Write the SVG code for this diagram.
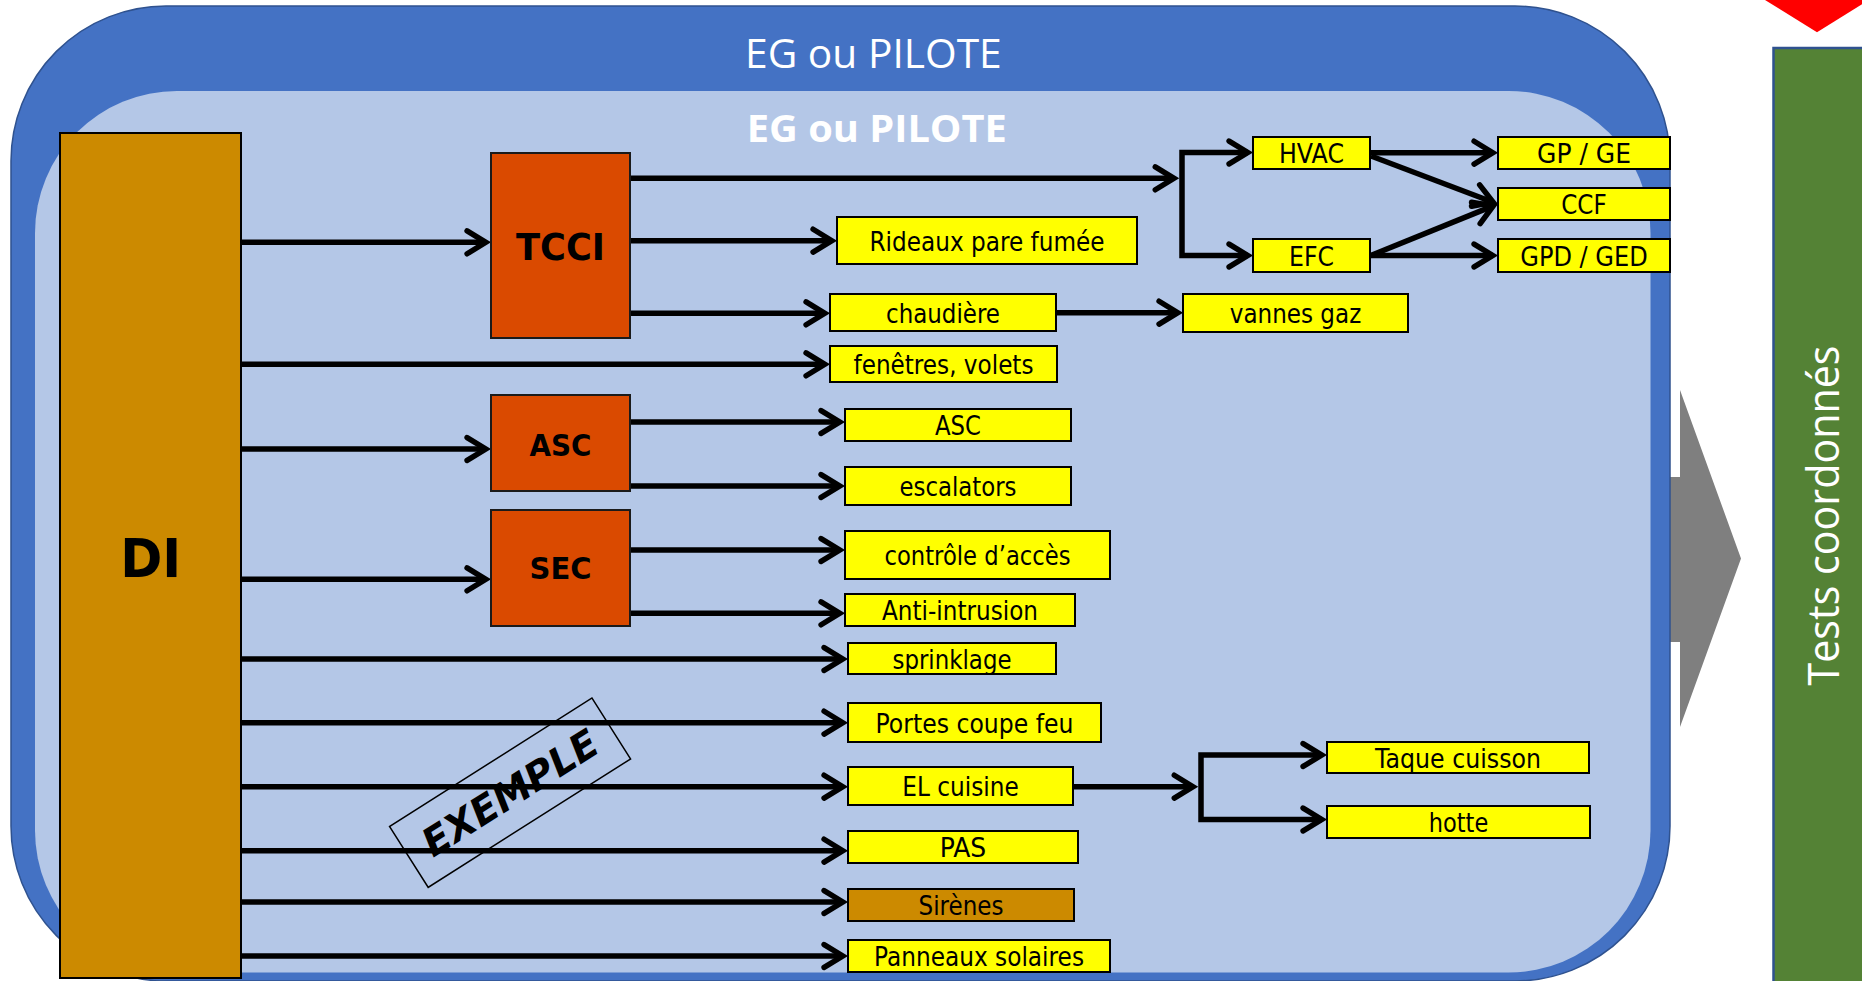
<svg xmlns="http://www.w3.org/2000/svg" width="1862" height="981" viewBox="0 0 1862 981">
<defs>
<style>
.lbl{font-family:"DejaVu Sans","Liberation Sans",sans-serif;font-size:26px;fill:#000;text-anchor:middle}
.big{font-family:"DejaVu Sans","Liberation Sans",sans-serif;font-weight:bold;fill:#000;text-anchor:middle}
.yb{fill:#FFFF00;stroke:#000;stroke-width:2}
.ob{fill:#DA4A00;stroke:#1a1a1a;stroke-width:2}
.con{fill:none;stroke:#000;stroke-width:5.5;stroke-linejoin:miter;marker-end:url(#arr)}
.plain{fill:none;stroke:#000;stroke-width:5.5}
</style>
<marker id="arr" markerUnits="userSpaceOnUse" markerWidth="60" markerHeight="60" refX="0" refY="0" orient="auto" style="overflow:visible">
<path d="M-18.7,-11.45 L0,0 L-18.7,11.45" fill="none" stroke="#000" stroke-width="5.5" stroke-linecap="round" stroke-linejoin="miter"/>
</marker>
</defs>
<rect width="1862" height="981" fill="#FFFFFF"/>

<g id="gray-arrow">
<polygon points="1600,477 1680,477 1680,390 1741,558.5 1680,727 1680,642 1600,642" fill="#7F7F7F"/>
</g>

<g id="red-triangle">
<polygon points="1765,0 1869,0 1817,32.3" fill="#FF0000"/>
</g>

<g id="tests">
<rect x="1773.5" y="48" width="100" height="950" fill="#548235" stroke="#2F528F" stroke-width="2.5"/>
<text transform="translate(1839,515.5) rotate(-90)" text-anchor="middle" font-family="'Open Sans','DejaVu Sans',sans-serif" font-size="43" fill="#FFFFFF" textLength="340" lengthAdjust="spacingAndGlyphs">Tests coordonnés</text>
</g>

<g id="eg-outer">
<rect x="11" y="6" width="1659" height="975" rx="155" ry="155" fill="#4472C4" stroke="#2F528F" stroke-width="1.5"/>
<text x="873.4" y="68.3" text-anchor="middle" font-family="'Open Sans','DejaVu Sans',sans-serif" font-size="40.6" fill="#FFFFFF" textLength="256.7" lengthAdjust="spacingAndGlyphs">EG ou PILOTE</text>
</g>

<g id="eg-inner">
<rect x="35" y="91" width="1615.5" height="881.5" rx="142" ry="142" fill="#B4C7E7"/>
<text x="876.8" y="141.7" text-anchor="middle" font-family="'Open Sans','DejaVu Sans',sans-serif" font-weight="bold" font-size="38.4" fill="#FFFFFF" textLength="260" lengthAdjust="spacingAndGlyphs">EG ou PILOTE</text>
</g>

<g id="connectors">
<path class="con" d="M241,242.3 H485.8"/>
<path class="con" d="M630,178.3 H1174"/>
<path class="con" d="M1182,204 V152.5 H1247.8"/>
<path class="con" d="M1182,204 V255.5 H1247.8"/>
<path class="con" d="M630,240.7 H831.8"/>
<path class="con" d="M630,313.3 H824.8"/>
<path class="con" d="M241,364.3 H824.8"/>
<path class="con" d="M630,422 H839.8"/>
<path class="con" d="M630,486 H839.8"/>
<path class="con" d="M241,449 H485.8"/>
<path class="con" d="M241,579.3 H485.8"/>
<path class="con" d="M630,550 H839.8"/>
<path class="con" d="M630,613.3 H839.8"/>
<path class="con" d="M241,659 H842.8"/>
<path class="con" d="M241,722.7 H842.8"/>
<path class="con" d="M241,786.7 H842.8"/>
<path class="con" d="M241,850.7 H842.8"/>
<path class="con" d="M241,902 H842.8"/>
<path class="con" d="M241,956 H842.8"/>
<path class="con" d="M1056,312.7 H1177.8"/>
<path class="con" d="M1370,152.7 H1492.8"/>
<path class="con" d="M1371,156 L1493.1,202.2"/>
<path class="con" d="M1372,255 L1493.2,205.9"/>
<path class="con" d="M1370,255.5 H1492.8"/>
<path class="con" d="M1073,786.7 H1193"/>
<path class="con" d="M1201,787 V755 H1321.8"/>
<path class="con" d="M1201,787 V819.5 H1321.8"/>
</g>

<g id="DI">
<rect x="60" y="133" width="181" height="845" fill="#CC8A00" stroke="#000" stroke-width="2"/>
<text class="big" x="150.7" y="577.3" font-size="52.5" textLength="61" lengthAdjust="spacingAndGlyphs">DI</text>
</g>
<g id="TCCI">
<rect class="ob" x="491" y="153" width="139" height="185"/>
<text class="big" x="560.5" y="260" font-size="36.6" textLength="89" lengthAdjust="spacingAndGlyphs">TCCI</text>
</g>
<g id="ASC">
<rect class="ob" x="491" y="395" width="139" height="96"/>
<text class="big" x="560.5" y="456" font-size="31" textLength="62" lengthAdjust="spacingAndGlyphs">ASC</text>
</g>
<g id="SEC">
<rect class="ob" x="491" y="510" width="139" height="116"/>
<text class="big" x="560.5" y="579.3" font-size="31" textLength="62" lengthAdjust="spacingAndGlyphs">SEC</text>
</g>

<g id="rideaux"><rect class="yb" x="837" y="217" width="300" height="47"/><text class="lbl" x="987" y="250.5" textLength="235" lengthAdjust="spacingAndGlyphs">Rideaux pare fumée</text></g>
<g id="chaudiere"><rect class="yb" x="830" y="294" width="226" height="37"/><text class="lbl" x="943" y="322.5" textLength="114" lengthAdjust="spacingAndGlyphs">chaudière</text></g>
<g id="fenetres"><rect class="yb" x="830" y="346" width="227" height="36"/><text class="lbl" x="943.5" y="374" textLength="180" lengthAdjust="spacingAndGlyphs">fenêtres, volets</text></g>
<g id="asc-y"><rect class="yb" x="845" y="409" width="226" height="32"/><text class="lbl" x="958" y="435" textLength="46" lengthAdjust="spacingAndGlyphs">ASC</text></g>
<g id="escalators"><rect class="yb" x="845" y="467" width="226" height="38"/><text class="lbl" x="958" y="496" textLength="117" lengthAdjust="spacingAndGlyphs">escalators</text></g>
<g id="controle"><rect class="yb" x="845" y="531" width="265" height="48"/><text class="lbl" x="977.5" y="565" textLength="186" lengthAdjust="spacingAndGlyphs">contrôle d’accès</text></g>
<g id="anti"><rect class="yb" x="845" y="594" width="230" height="32"/><text class="lbl" x="960" y="620" textLength="156" lengthAdjust="spacingAndGlyphs">Anti-intrusion</text></g>
<g id="sprinklage"><rect class="yb" x="848" y="643" width="208" height="31"/><text class="lbl" x="952" y="668.5" textLength="119" lengthAdjust="spacingAndGlyphs">sprinklage</text></g>
<g id="portes"><rect class="yb" x="848" y="703" width="253" height="39"/><text class="lbl" x="974.5" y="732.5" textLength="198" lengthAdjust="spacingAndGlyphs">Portes coupe feu</text></g>
<g id="elcuisine"><rect class="yb" x="848" y="767" width="225" height="38"/><text class="lbl" x="960.5" y="796" textLength="116.5" lengthAdjust="spacingAndGlyphs">EL cuisine</text></g>
<g id="pas"><rect class="yb" x="848" y="831" width="230" height="32"/><text class="lbl" x="963" y="857" textLength="46.5" lengthAdjust="spacingAndGlyphs">PAS</text></g>
<g id="sirenes"><rect x="848" y="889" width="226" height="32" fill="#CC8A00" stroke="#000" stroke-width="2"/><text class="lbl" x="961" y="915" textLength="85" lengthAdjust="spacingAndGlyphs">Sirènes</text></g>
<g id="panneaux"><rect class="yb" x="848" y="940" width="262" height="32"/><text class="lbl" x="979" y="966" textLength="210" lengthAdjust="spacingAndGlyphs">Panneaux solaires</text></g>
<g id="hvac"><rect class="yb" x="1253" y="137" width="117" height="32"/><text class="lbl" x="1311.5" y="163" textLength="65" lengthAdjust="spacingAndGlyphs">HVAC</text></g>
<g id="efc"><rect class="yb" x="1253" y="239" width="117" height="33"/><text class="lbl" x="1311.5" y="265.5" textLength="45" lengthAdjust="spacingAndGlyphs">EFC</text></g>
<g id="gpge"><rect class="yb" x="1498" y="137" width="172" height="32"/><text class="lbl" x="1584" y="163" textLength="94" lengthAdjust="spacingAndGlyphs">GP / GE</text></g>
<g id="ccf"><rect class="yb" x="1498" y="188" width="172" height="32"/><text class="lbl" x="1584" y="214" textLength="45.5" lengthAdjust="spacingAndGlyphs">CCF</text></g>
<g id="gpdged"><rect class="yb" x="1498" y="239" width="172" height="33"/><text class="lbl" x="1584" y="265.5" textLength="127.5" lengthAdjust="spacingAndGlyphs">GPD / GED</text></g>
<g id="vannes"><rect class="yb" x="1183" y="294" width="225" height="38"/><text class="lbl" x="1295.5" y="323" textLength="131.5" lengthAdjust="spacingAndGlyphs">vannes gaz</text></g>
<g id="taque"><rect class="yb" x="1327" y="742" width="262" height="31"/><text class="lbl" x="1458" y="767.5" textLength="166" lengthAdjust="spacingAndGlyphs">Taque cuisson</text></g>
<g id="hotte"><rect class="yb" x="1327" y="806" width="263" height="32"/><text class="lbl" x="1458.5" y="832" textLength="59.5" lengthAdjust="spacingAndGlyphs">hotte</text></g>

<g id="exemple" transform="translate(510,792.7) rotate(-32.4)">
<rect x="-119.8" y="-36" width="239.7" height="72.1" fill="none" stroke="#000" stroke-width="1.5"/>
<text x="0" y="14" text-anchor="middle" font-family="'DejaVu Sans',sans-serif" font-weight="bold" font-style="italic" font-size="39" fill="#000" textLength="200" lengthAdjust="spacingAndGlyphs">EXEMPLE</text>
</g>
</svg>
